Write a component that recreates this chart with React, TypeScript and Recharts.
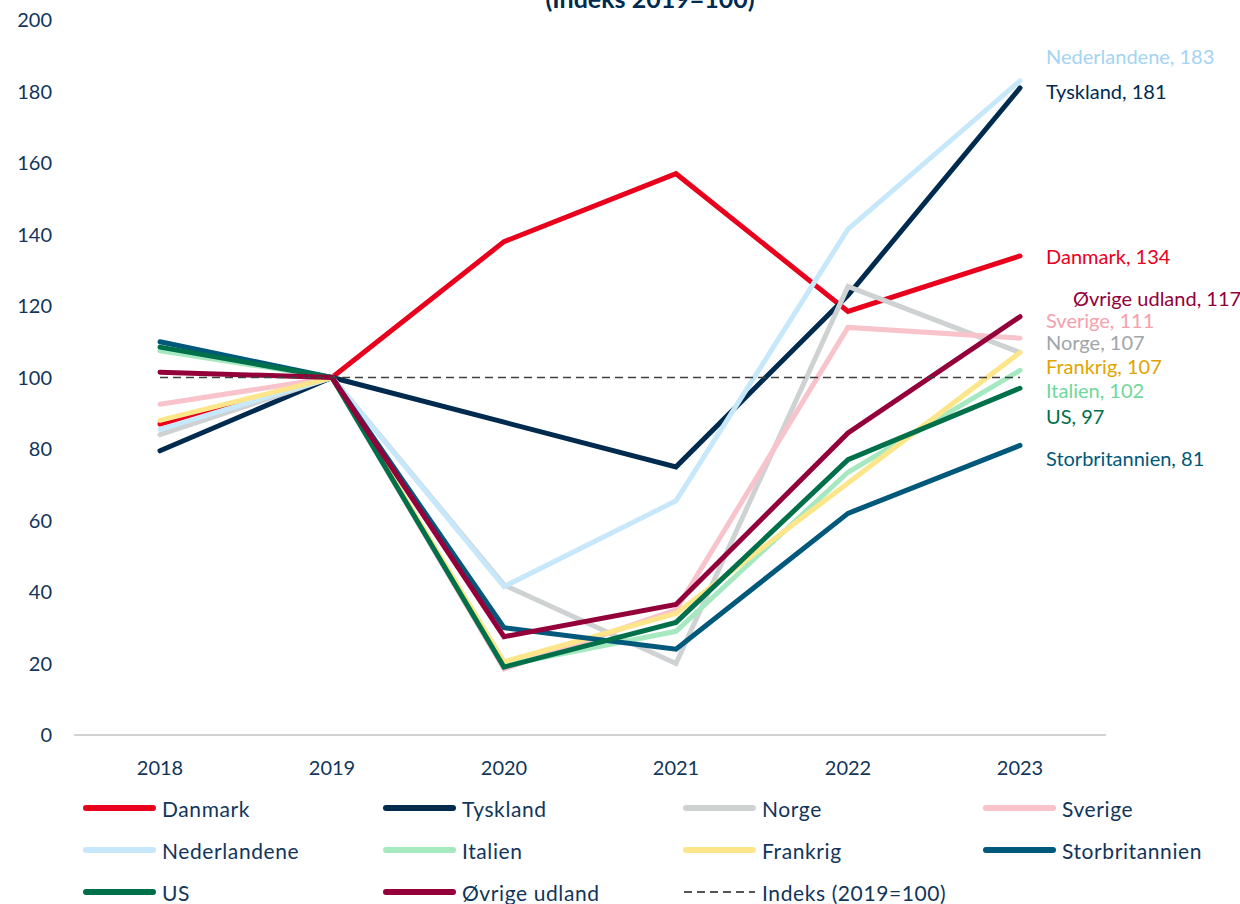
// Eksport-indeks pr. marked 2018-2023 (Recharts line chart)
import React from 'react';
import { LineChart, Line, XAxis, YAxis, LabelList } from 'recharts';

const years = ['2018', '2019', '2020', '2021', '2022', '2023'];

const danmark = [87, 100, 138, 157, 118.5, 134];
const tyskland = [79.5, 100, 87.5, 75, 123, 181];
const norge = [84, 100, 42, 20, 125.5, 107];
const sverige = [92.5, 100, 18.5, 35, 114, 111];
const nederlandene = [85.5, 100, 41.5, 65.5, 141.5, 183];
const italien = [107.5, 100, 19.5, 29, 73.5, 102];
const frankrig = [88, 100, 20.5, 34, 70.5, 107];
const storbritannien = [110, 100, 30, 24, 62, 81];
const us = [108.5, 100, 19, 31.5, 77, 97];
const ovrige = [101.5, 100, 27.5, 36.5, 84.5, 117];
const indeks = [100, 100, 100, 100, 100, 100];

const yTicks = [0, 20, 40, 60, 80, 100, 120, 140, 160, 180, 200];

const TEXT = '#12355b';

// serie-opsætning: farver og placering af slutlabels
const series = [
  { key: 'danmark', name: 'Danmark', values: danmark, color: '#e8001c', labelColor: '#e8001c', dx: 26, dy: 0 },
  { key: 'tyskland', name: 'Tyskland', values: tyskland, color: '#002b4f', labelColor: '#002b4f', dx: 26, dy: 3 },
  { key: 'norge', name: 'Norge', values: norge, color: '#cfd2d3', labelColor: '#a0a5a9', dx: 26, dy: -10 },
  { key: 'sverige', name: 'Sverige', values: sverige, color: '#f8c3cb', labelColor: '#f6a0ac', dx: 26, dy: -18 },
  { key: 'nederlandene', name: 'Nederlandene', values: nederlandene, color: '#c6e8fa', labelColor: '#a3d4f2', dx: 26, dy: -25 },
  { key: 'italien', name: 'Italien', values: italien, color: '#a6e9c1', labelColor: '#6ed89a', dx: 26, dy: 20 },
  { key: 'frankrig', name: 'Frankrig', values: frankrig, color: '#fde68a', labelColor: '#e0a500', dx: 26, dy: 14 },
  { key: 'storbritannien', name: 'Storbritannien', values: storbritannien, color: '#00587a', labelColor: '#00587a', dx: 26, dy: 13 },
  { key: 'us', name: 'US', values: us, color: '#00704a', labelColor: '#00704a', dx: 26, dy: 28 },
  { key: 'ovrige', name: 'Øvrige udland', values: ovrige, color: '#93003a', labelColor: '#93003a', dx: 53, dy: -19 },
];

const data = years.map((year, i) => {
  const row: Record<string, string | number> = { year, indeks: indeks[i] };
  series.forEach((s) => {
    row[s.key] = s.values[i];
  });
  return row;
});

function endLabel(s: (typeof series)[number]) {
  return (props: any) => {
    const { x, y, index, value } = props;
    if (index !== years.length - 1) return null;
    return (
      <text
        x={x + s.dx}
        y={y + s.dy}
        fill={s.labelColor}
        fontSize={20}
        fontFamily="Lato"
        dominantBaseline="central"
      >
        {`${s.name}, ${Math.round(value)}`}
      </text>
    );
  };
}

const legendItems = [
  ...series.map((s) => ({ name: s.name, color: s.color, dashed: false })),
  { name: 'Indeks (2019=100)', color: '#555555', dashed: true },
];

function ChartLegend() {
  return (
    <div style={{ position: 'absolute', left: 0, top: 787, width: 1240 }}>
      {legendItems.map((item, i) => {
        const col = i % 4;
        const row = Math.floor(i / 4);
        return (
          <div
            key={item.name}
            style={{
              position: 'absolute',
              left: 83 + col * 300,
              top: row * 42,
              height: 42,
              display: 'flex',
              alignItems: 'center',
              fontFamily: 'Lato',
              fontSize: 21,
              letterSpacing: 0.6,
              color: TEXT,
              whiteSpace: 'nowrap',
            }}
          >
            <svg width={79} height={10}>
              {item.dashed ? (
                <line x1={1} y1={5} x2={72} y2={5} stroke={item.color} strokeWidth={2} strokeDasharray="8 5" />
              ) : (
                <line x1={3} y1={5} x2={70} y2={5} stroke={item.color} strokeWidth={6} strokeLinecap="round" />
              )}
            </svg>
            <span>{item.name}</span>
          </div>
        );
      })}
    </div>
  );
}

export default function App() {
  return (
    <div style={{ position: 'absolute', left: 0, top: 0, width: 1240, height: 904, background: '#fff', overflow: 'hidden' }}>
      <div
        style={{
          position: 'absolute',
          left: 450,
          top: -14,
          width: 400,
          textAlign: 'center',
          fontFamily: 'Lato',
          fontWeight: 700,
          fontSize: 25,
          lineHeight: '25px',
          color: '#002b4f',
        }}
      >
        (Indeks 2019=100)
      </div>
      <LineChart width={1240} height={790} data={data} margin={{ top: 20, right: 134, left: 0, bottom: 25 }}>
        <XAxis
          dataKey="year"
          tick={{ fontSize: 20, fill: TEXT, fontFamily: 'Lato' }}
          tickLine={false}
          axisLine={{ stroke: '#a6a6a6', strokeWidth: 1 }}
          tickMargin={20}
          height={30}
          padding={{ left: 86, right: 86 }}
          interval={0}
        />
        <YAxis
          domain={[0, 200]}
          ticks={yTicks}
          tick={{ fontSize: 20, fill: TEXT, fontFamily: 'Lato' }}
          axisLine={false}
          tickLine={false}
          tickMargin={16}
          width={74}
          interval={0}
        />
        {series.map((s) => (
          <Line
            key={s.key}
            type="linear"
            dataKey={s.key}
            name={s.name}
            stroke={s.color}
            strokeWidth={5}
            strokeLinecap="round"
            dot={false}
            activeDot={false}
            isAnimationActive={false}
          >
            <LabelList dataKey={s.key} content={endLabel(s)} />
          </Line>
        ))}
        <Line
          type="linear"
          dataKey="indeks"
          name="Indeks (2019=100)"
          stroke="#404040"
          strokeWidth={1.5}
          strokeDasharray="8 5"
          dot={false}
          activeDot={false}
          isAnimationActive={false}
        />
      </LineChart>
      <ChartLegend />
    </div>
  );
}
